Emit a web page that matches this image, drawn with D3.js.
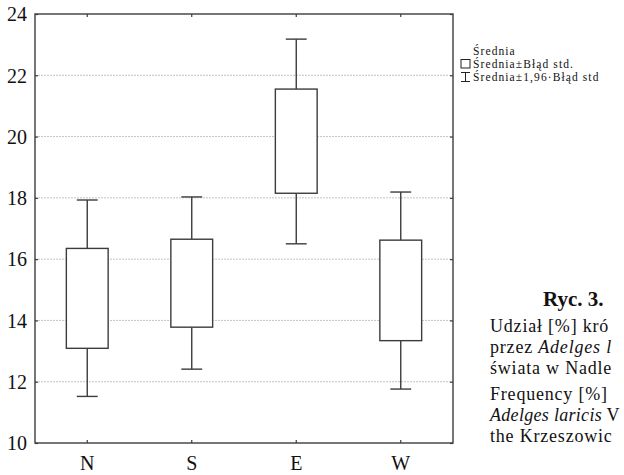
<!DOCTYPE html>
<html>
<head>
<meta charset="utf-8">
<script src="https://cdn.jsdelivr.net/npm/d3@7"></script>
<style>
  html, body { margin: 0; padding: 0; background: #fff; }
  svg { display: block; font-family: "Liberation Serif", "Times New Roman", serif; }
</style>
</head>
<body>
<svg id="chart" width="624" height="475"></svg>
<script>
// ---- data ----
const categories = ["N", "S", "E", "W"];
const whiskerLow  = [11.52, 12.41, 16.50, 11.76];   // Średnia − 1,96·Błąd std
const boxLow      = [13.09, 13.78, 18.15, 13.34];   // Średnia − Błąd std
const boxHigh     = [16.35, 16.65, 21.55, 16.62];   // Średnia + Błąd std
const whiskerHigh = [17.93, 18.03, 23.18, 18.19];   // Średnia + 1,96·Błąd std
const yTicks = [10, 12, 14, 16, 18, 20, 22, 24];
const legendLabels = ["Średnia", "Średnia±Błąd std.", "Średnia±1,96·Błąd std"];
const captionTitle = "Ryc. 3.";
// caption text as far as it is visible in the (cropped) reference
const captionLines = [
  [{t: "Udział [%] kró"}],
  [{t: "przez "}, {t: "Adelges l", i: true}],
  [{t: "świata w Nadle"}],
  [{t: "Frequency [%]"}],
  [{t: "Adelges laricis", i: true}, {t: " V"}],
  [{t: "the Krzeszowic"}]
];

// ---- layout ----
const svg = d3.select("#chart");
const plot = {left: 35, top: 14, right: 453, bottom: 443};
const ink = "#3c3c3c";

const x = d3.scaleBand().domain(categories).range([plot.left, plot.right]).padding(0);
const y = d3.scaleLinear().domain([10, 24]).range([plot.bottom, plot.top]);

// gridlines
svg.append("g").selectAll("line")
  .data(yTicks.filter(t => t > 10 && t < 24))
  .join("line")
  .attr("x1", plot.left).attr("x2", plot.right)
  .attr("y1", d => y(d)).attr("y2", d => y(d))
  .attr("stroke", "#c4c4c4").attr("stroke-width", 1)
  .attr("stroke-dasharray", "2,1");

// axes (ticks inward)
const tickStyle = g => {
  g.select(".domain").remove();
  g.selectAll(".tick line").attr("stroke", ink).attr("stroke-width", 1.2);
  g.selectAll(".tick text").attr("fill", "#111").style("font-family", "Liberation Serif, serif");
};
svg.append("g").attr("transform", `translate(${plot.left},0)`)
  .call(d3.axisLeft(y).tickValues(yTicks).tickSize(-3).tickPadding(8).tickFormat(d3.format("d")))
  .call(tickStyle)
  .call(g => g.selectAll(".tick text").style("font-size", "20px").attr("dy", "0.34em"));
svg.append("g").attr("transform", `translate(${plot.right},0)`)
  .call(d3.axisRight(y).tickValues(yTicks).tickSize(-3).tickFormat(""))
  .call(tickStyle);
svg.append("g").attr("transform", `translate(0,${plot.bottom})`)
  .call(d3.axisBottom(x).tickSize(-3).tickPadding(13))
  .call(tickStyle)
  .call(g => g.selectAll(".tick text").style("font-size", "20px").attr("dy", "0.71em"));
svg.append("g").attr("transform", `translate(0,${plot.top})`)
  .call(d3.axisTop(x).tickSize(-3).tickFormat(""))
  .call(tickStyle);

// frame
svg.append("rect")
  .attr("x", plot.left).attr("y", plot.top)
  .attr("width", plot.right - plot.left).attr("height", plot.bottom - plot.top)
  .attr("fill", "none").attr("stroke", ink).attr("stroke-width", 1.4);

// boxes & whiskers
const boxW = x.bandwidth() * 0.4;
const capW = boxW / 2;
const g = svg.append("g").attr("stroke", ink).attr("stroke-width", 1.4);
categories.forEach((c, i) => {
  const cx = x(c) + x.bandwidth() / 2;
  g.append("line").attr("x1", cx).attr("x2", cx).attr("y1", y(whiskerHigh[i])).attr("y2", y(boxHigh[i]));
  g.append("line").attr("x1", cx).attr("x2", cx).attr("y1", y(boxLow[i])).attr("y2", y(whiskerLow[i]));
  g.append("line").attr("x1", cx - capW / 2).attr("x2", cx + capW / 2).attr("y1", y(whiskerHigh[i])).attr("y2", y(whiskerHigh[i]));
  g.append("line").attr("x1", cx - capW / 2).attr("x2", cx + capW / 2).attr("y1", y(whiskerLow[i])).attr("y2", y(whiskerLow[i]));
  g.append("rect").attr("x", cx - boxW / 2).attr("width", boxW)
    .attr("y", y(boxHigh[i])).attr("height", y(boxLow[i]) - y(boxHigh[i]))
    .attr("fill", "#fff");
});

// legend
const lg = svg.append("g").attr("font-size", "11.5px").attr("fill", "#111")
  .style("letter-spacing", "1.1px");
const legBase = [55, 68, 81];
legendLabels.forEach((t, i) => {
  lg.append("text").attr("x", 473).attr("y", legBase[i]).text(t);
});
lg.append("rect").attr("x", 461).attr("y", 59.5).attr("width", 9).attr("height", 8.5)
  .attr("fill", "none").attr("stroke", "#222").attr("stroke-width", 1);
const ib = lg.append("g").attr("stroke", "#222").attr("stroke-width", 1);
ib.append("line").attr("x1", 465.5).attr("x2", 465.5).attr("y1", 72.5).attr("y2", 81.5);
ib.append("line").attr("x1", 461).attr("x2", 470).attr("y1", 72.5).attr("y2", 72.5);
ib.append("line").attr("x1", 461).attr("x2", 470).attr("y1", 81.5).attr("y2", 81.5);

// caption
svg.append("text").attr("x", 543).attr("y", 306)
  .attr("font-size", "21px").attr("font-weight", "bold").attr("fill", "#111")
  .text(captionTitle);
const capBase = [332, 353, 374, 400, 421, 442];
captionLines.forEach((segs, i) => {
  const t = svg.append("text").attr("x", 490).attr("y", capBase[i])
    .attr("font-size", "18px").attr("fill", "#111").style("letter-spacing", "0.8px");
  segs.forEach(s => t.append("tspan").attr("font-style", s.i ? "italic" : null).text(s.t));
  // keep the line inside the window
  let ls = 0.8;
  while (t.node().getBBox().x + t.node().getBBox().width > 621 && ls > -0.5) {
    ls -= 0.1;
    t.style("letter-spacing", ls.toFixed(1) + "px");
  }
});
</script>
</body>
</html>
